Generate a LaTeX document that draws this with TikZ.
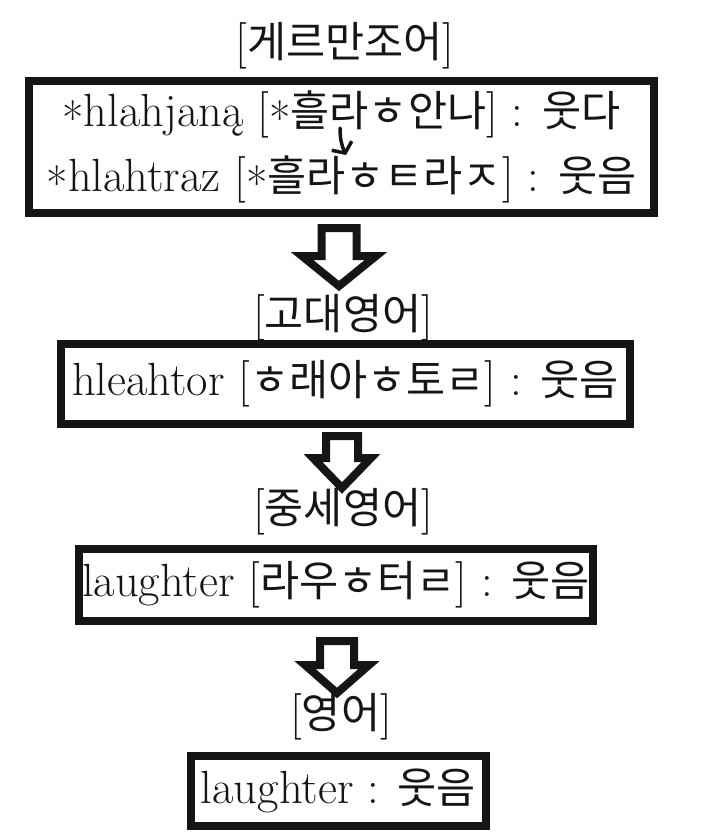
\documentclass[tikz,border=0pt]{standalone}
\usepackage{fontspec}
\newfontfamily\krfont{Noto Sans CJK KR}
\usetikzlibrary{arrows.meta,positioning,calc}
\definecolor{ink}{HTML}{151515}
\newcommand\hangul[1]{{\krfont\fontsize{42.5}{65}\selectfont #1}}
\newcommand\recon{\raisebox{-.2em}{*}}
\newcommand\erafont{\fontsize{46.5}{54}\selectfont}
\newcommand\stagefont{\fontsize{46.5}{65}\selectfont}
\tikzset{
  >=Latex,
  every node/.style={text=ink,inner sep=0pt},
  era/.style={font=\erafont},
  stage/.style={draw=ink,line width=8pt,align=center,font=\stagefont},
  hollow/.style={draw=ink,line width=8pt,line join=miter},
  handarrow/.style={draw=ink,line width=3.5pt,line cap=round,-{Straight Barb[length=8pt,width=22pt,line width=3.5pt]}},
  pics/blockarrow/.style n args={4}{code={
    \draw[hollow] (-#1,0) -- (#1,0) -- (#1,#3) -- (#2,#3) -- (0,#4) -- (-#2,#3) -- (-#1,#3) -- cycle;
  }},
}

\begin{document}
\begin{tikzpicture}[x=1pt,y=-1pt]
\useasboundingbox (0,0) rectangle (703,836);

\node[era] (gmc) at (345,46) {[\hangul{게르만조어}]};
\node[stage,minimum width=625pt,minimum height=132pt] (pgmc) at (341.5,147)
  {\recon hlahjaną [\recon\hangul{흘라ㅎ안나}] : \hangul{웃다}\\\recon hlahtraz [\recon\hangul{흘라ㅎㅌ라ㅈ}] : \hangul{웃음}};

\node[era] (oe) at (343,318) {[\hangul{고대영어}]};
\node[stage,minimum width=569pt,minimum height=80pt] (oeword) at (345.5,384)
  {hleahtor [\hangul{ㅎ래아ㅎ토ㄹ}] : \hangul{웃음}};

\node[era] (me) at (343,512) {[\hangul{중세영어}]};
\node[stage,minimum width=514pt,minimum height=72pt] (meword) at (336,585)
  {laughter [\hangul{라우ㅎ터ㄹ}] : \hangul{웃음}};

\node[era] (ne) at (341,717) {[\hangul{영어}]};
\node[stage,minimum width=295pt,minimum height=70pt] (neword) at (338.5,791)
  {laughter : \hangul{웃음}};

\coordinate (tick1) at (340,128);
\coordinate (tick2) at (346,155);
\draw[handarrow] (tick1) to[bend right=12] (tick2);

\pic at ($(pgmc.south)+(-2.5,11)$) {blockarrow={17.5}{37}{28}{58}};
\pic at ($(oeword.south)+(-3.5,8)$) {blockarrow={16}{29}{22}{52}};
\pic at ($(meword.south)+(1,16)$) {blockarrow={17}{32}{24}{52}};

\end{tikzpicture}
\end{document}
